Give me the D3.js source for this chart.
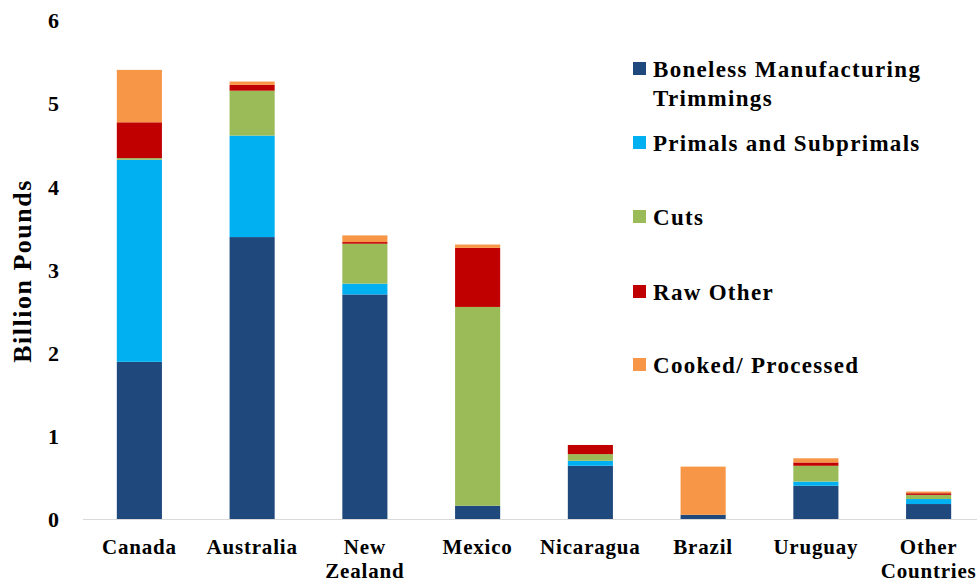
<!DOCTYPE html>
<html>
<head>
<meta charset="utf-8">
<script src="https://cdn.jsdelivr.net/npm/d3@7"></script>
<style>
  html, body { margin:0; padding:0; background:#fff; }
</style>
</head>
<body>
<svg id="chart" width="977" height="584"></svg>
<script>
// data (billion pounds)
const countries = ['Canada','Australia','New Zealand','Mexico','Nicaragua','Brazil','Uruguay','Other Countries'];
const seriesNames = ['Boneless Manufacturing Trimmings','Primals and Subprimals','Cuts','Raw Other','Cooked/ Processed'];
const seriesColors = ['#1F497D','#00B0F0','#9BBB59','#C00000','#F79646'];
const boneless = [1.89, 3.39, 2.70, 0.16, 0.64, 0.05, 0.40, 0.18];
const primals  = [2.43, 1.22, 0.13, 0.00, 0.06, 0.00, 0.05, 0.06];
const cuts     = [0.02, 0.54, 0.48, 2.39, 0.08, 0.00, 0.19, 0.05];
const rawOther = [0.43, 0.07, 0.02, 0.71, 0.11, 0.00, 0.04, 0.02];
const cooked   = [0.63, 0.04, 0.08, 0.04, 0.00, 0.58, 0.05, 0.02];
const yTicks = [0,1,2,3,4,5,6];

// label line breaks
const xLabelLines = {'New Zealand':['New','Zealand'], 'Other Countries':['Other','Countries']};
const legendLines = [['Boneless Manufacturing','Trimmings'],['Primals and Subprimals'],['Cuts'],['Raw Other'],['Cooked/ Processed']];

const FONT = '"Liberation Serif", "Times New Roman", "DejaVu Serif", serif';

const svg = d3.select('#chart');

const x = d3.scaleBand().domain(countries).range([83, 985]).paddingInner(0.6).paddingOuter(0.3);
const y = d3.scaleLinear().domain([0, 6]).range([519, 20]);

// stack table built from the arrays
const table = countries.map((c, i) => ({
  country: c,
  [seriesNames[0]]: boneless[i],
  [seriesNames[1]]: primals[i],
  [seriesNames[2]]: cuts[i],
  [seriesNames[3]]: rawOther[i],
  [seriesNames[4]]: cooked[i]
}));
const stacked = d3.stack().keys(seriesNames)(table);

// baseline
svg.append('line')
  .attr('x1', 83).attr('x2', 977)
  .attr('y1', y(0) + 0.5).attr('y2', y(0) + 0.5)
  .attr('stroke', '#D9D9D9').attr('stroke-width', 1.2);

// bars
svg.append('g').selectAll('g')
  .data(stacked)
  .join('g')
    .attr('fill', (d, i) => seriesColors[i])
  .selectAll('rect')
  .data(d => d)
  .join('rect')
    .attr('x', d => x(d.data.country))
    .attr('width', x.bandwidth())
    .attr('y', d => y(d[1]))
    .attr('height', d => Math.max(0, y(d[0]) - y(d[1])));

// y axis labels (no axis line)
const yAxis = svg.append('g')
  .attr('transform', 'translate(59,0)')
  .call(d3.axisLeft(y).tickValues(yTicks).tickSize(0).tickPadding(0).tickFormat(d3.format('d')));
yAxis.select('.domain').remove();
yAxis.attr('font-family', FONT).attr('font-size', 22).attr('font-weight', 'bold');
yAxis.selectAll('text').attr('fill', '#000').attr('dy', '0.35em');

// y title
svg.append('text')
  .attr('transform', 'translate(31,271) rotate(-90)')
  .attr('text-anchor', 'middle')
  .attr('font-family', FONT).attr('font-weight', 'bold')
  .attr('font-size', 26).attr('letter-spacing', 1.5)
  .text('Billion Pounds');

// x axis labels
const xAxis = svg.append('g')
  .attr('transform', `translate(0,${y(0)})`)
  .call(d3.axisBottom(x).tickSize(0).tickPadding(0).tickFormat(() => ''));
xAxis.select('.domain').remove();
xAxis.selectAll('.tick').each(function(d) {
  const lines = xLabelLines[d] || [d];
  const t = d3.select(this).append('text')
    .attr('text-anchor', 'middle')
    .attr('fill', '#000')
    .attr('font-family', FONT).attr('font-weight', 'bold')
    .attr('font-size', 21).attr('letter-spacing', 0.8);
  lines.forEach((ln, k) => {
    t.append('tspan').attr('x', 0).attr('y', 35 + k * 24).text(ln);
  });
});

// legend
const legendY = [69, 143, 217, 292, 365];
const legend = svg.append('g')
  .attr('font-family', FONT).attr('font-weight', 'bold')
  .attr('font-size', 23).attr('letter-spacing', 1.3);
seriesNames.forEach((name, i) => {
  const g = legend.append('g').attr('transform', `translate(633,${legendY[i]})`);
  g.append('rect').attr('x', 0).attr('y', -7).attr('width', 13).attr('height', 13).attr('fill', seriesColors[i]);
  const t = g.append('text').attr('fill', '#000');
  legendLines[i].forEach((ln, k) => {
    t.append('tspan').attr('x', 20).attr('y', 8 + k * 29).text(ln);
  });
});
</script>
</body>
</html>
